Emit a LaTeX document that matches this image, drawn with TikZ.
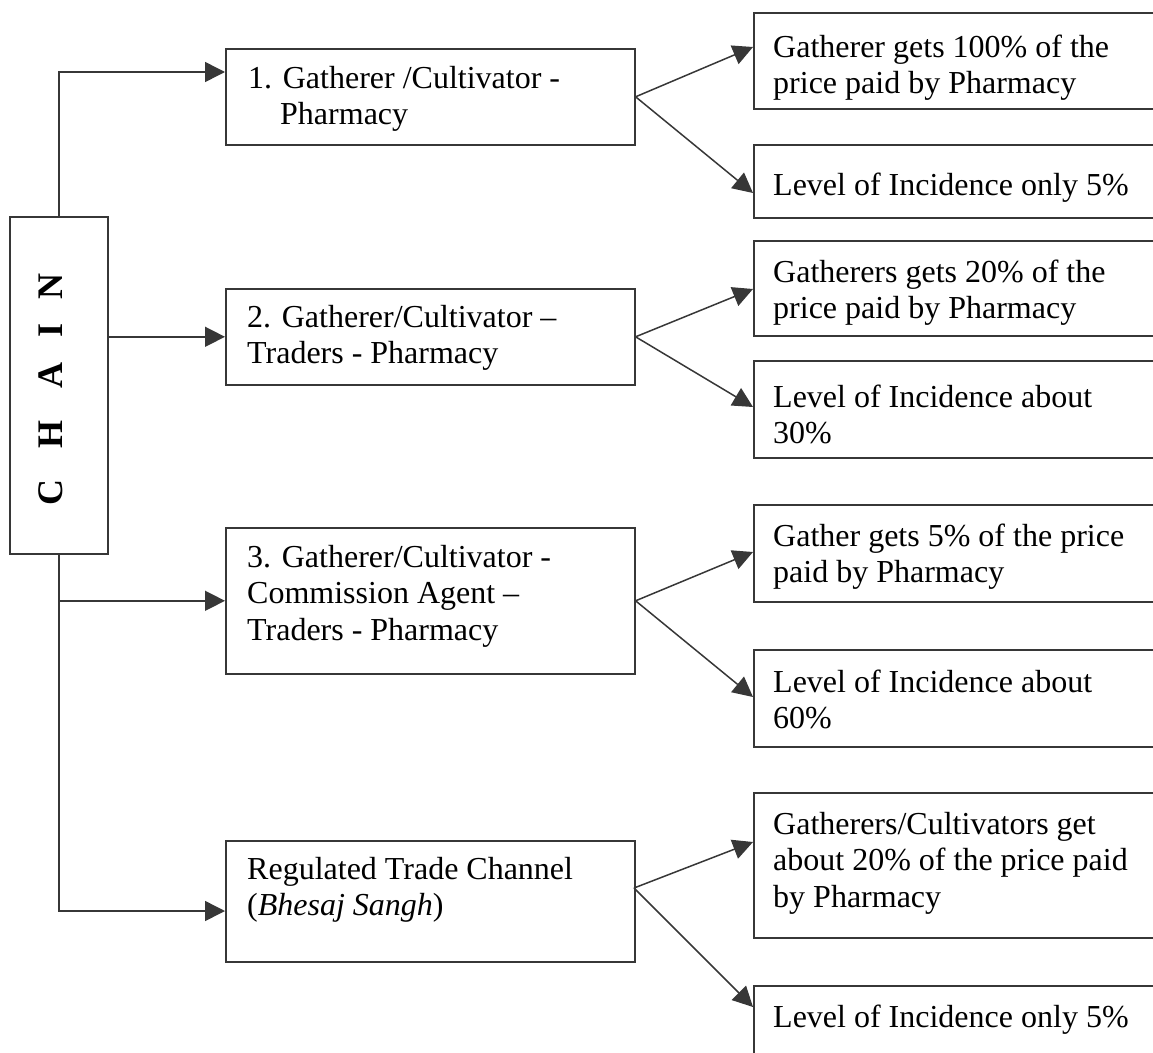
\documentclass[tikz,border=0pt]{standalone}
\usepackage{fontspec}
\setmainfont{Liberation Serif}
\usetikzlibrary{arrows.meta}
\definecolor{ink}{RGB}{55,55,55}
\begin{document}
\begin{tikzpicture}[x=1pt,y=-1pt,
  box/.style={draw=ink, line width=1.6pt, rectangle, inner sep=0pt, anchor=north west},
  lbox/.style={box, minimum width=409pt},
  rbox/.style={box, minimum width=420pt},
  txt/.style={anchor=base west, inner sep=0pt, text=black,
    font=\fontsize{32}{36.8}\selectfont},
  link/.style={draw=ink, line width=1.5pt},
  arr/.style={link, -{Triangle[length=20pt,width=20pt]}}]

\useasboundingbox (0,0) rectangle (1153,1052);
\clip (0,0) rectangle (1153,1052);

% chain box with spaced vertical title
\node[box, minimum width=98pt, minimum height=337pt] (chain) at (9,216) {};
\node[rotate=90, anchor=base, inner sep=0pt,
      font=\fontsize{36}{42}\selectfont\bfseries] (chaintxt) at (62,390)
  {\makebox[58.5pt]{C}\makebox[58.5pt]{H}\makebox[58.5pt]{A}\makebox[32.5pt]{I}\makebox[55.5pt]{N}};

% channel boxes
\node[lbox, minimum height=96pt]  (b1) at (225,48)  {};
\node[lbox, minimum height=96pt]  (b2) at (225,288) {};
\node[lbox, minimum height=146pt] (b3) at (225,527) {};
\node[lbox, minimum height=121pt] (b4) at (225,840) {};

\node[txt] (t1) at (248,88) {\begin{tabular}[t]{@{}l@{}}1. Gatherer /Cultivator -\\\hspace*{32pt}Pharmacy\end{tabular}};
\node[txt] (t2) at (247,327) {\begin{tabular}[t]{@{}l@{}}2. Gatherer/Cultivator --\\Traders - Pharmacy\end{tabular}};
\node[txt] (t3) at (247,567) {\begin{tabular}[t]{@{}l@{}}3. Gatherer/Cultivator -\\Commission Agent --\\Traders - Pharmacy\end{tabular}};
\node[txt] (t4) at (247,879) {\begin{tabular}[t]{@{}l@{}}Regulated Trade Channel\\(\textit{Bhesaj Sangh})\end{tabular}};

% outcome boxes
\node[rbox, minimum height=96pt]  (r1a) at (753,12)  {};
\node[rbox, minimum height=73pt]  (r1b) at (753,144) {};
\node[rbox, minimum height=95pt]  (r2a) at (753,240) {};
\node[rbox, minimum height=97pt]  (r2b) at (753,360) {};
\node[rbox, minimum height=97pt]  (r3a) at (753,504) {};
\node[rbox, minimum height=97pt]  (r3b) at (753,649) {};
\node[rbox, minimum height=145pt] (r4a) at (753,792) {};
\node[rbox, minimum height=120pt] (r4b) at (753,985) {};

\node[txt] (s1a) at (773,57) {\begin{tabular}[t]{@{}l@{}}Gatherer gets 100\% of the\\price paid by Pharmacy\end{tabular}};
\node[txt] (s1b) at (773,195) {Level of Incidence only 5\%};
\node[txt] (s2a) at (773,282) {\begin{tabular}[t]{@{}l@{}}Gatherers gets 20\% of the\\price paid by Pharmacy\end{tabular}};
\node[txt] (s2b) at (773,407) {\begin{tabular}[t]{@{}l@{}}Level of Incidence about\\30\%\end{tabular}};
\node[txt] (s3a) at (773,546) {\begin{tabular}[t]{@{}l@{}}Gather gets 5\% of the price\\paid by Pharmacy\end{tabular}};
\node[txt] (s3b) at (773,692) {\begin{tabular}[t]{@{}l@{}}Level of Incidence about\\60\%\end{tabular}};
\node[txt] (s4a) at (773,834) {\begin{tabular}[t]{@{}l@{}}Gatherers/Cultivators get\\about 20\% of the price paid\\by Pharmacy\end{tabular}};
\node[txt] (s4b) at (773,1027) {Level of Incidence only 5\%};

% chain connectors
\coordinate (in1) at (225,72);
\coordinate (in4) at (225,911);
\draw[arr] (chain.north) |- (in1);
\draw[arr] (chain.east |- b2.west) -- (b2.west);
\draw[arr] (chain.south) |- (b3.west);
\draw[arr] (chain.south) |- (in4);

% forks to outcomes
\coordinate (f4) at (634,888);
\draw[arr] (b1.east) -- ([yshift=-35pt]r1a.north west);
\draw[arr] (b1.east) -- ([yshift=-49pt]r1b.north west);
\draw[arr] (b2.east) -- ([yshift=-49pt]r2a.north west);
\draw[arr] (b2.east) -- ([yshift=-47pt]r2b.north west);
\draw[arr] (b3.east) -- ([yshift=-48pt]r3a.north west);
\draw[arr] (b3.east) -- ([yshift=-48pt]r3b.north west);
\draw[arr] (f4) -- ([yshift=-50pt]r4a.north west);
\draw[arr] (f4) -- ([yshift=-22pt]r4b.north west);
\end{tikzpicture}
\end{document}
